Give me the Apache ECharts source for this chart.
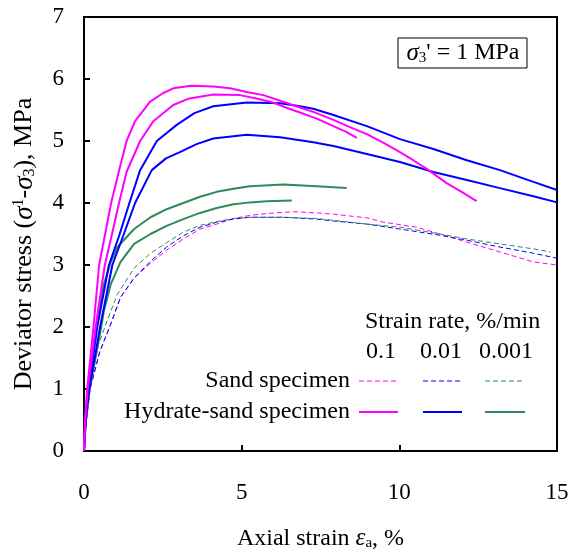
<!DOCTYPE html>
<html><head><meta charset="utf-8">
<script src="https://cdn.jsdelivr.net/npm/echarts@6/dist/echarts.min.js"></script>
<style>html,body{margin:0;padding:0;background:#fff}#c{width:577px;height:556px}</style>
</head><body><div id="c"></div>
<script>
// Hydrate-sand specimens (solid)
const hydMagentaA = [[0,0],[0.03,0.5],[0.1,1.0],[0.2,1.5],[0.3,2.0],[0.48,3.0],[0.67,3.5],[0.86,4.0],[1.1,4.5],[1.35,5.0],[1.62,5.32],[2.09,5.63],[2.5,5.77],[2.83,5.85],[3.4,5.89],[4.1,5.88],[4.63,5.85],[5.16,5.79],[5.69,5.74],[6.22,5.65],[6.85,5.54],[7.27,5.47],[7.91,5.34],[8.45,5.22],[8.97,5.11],[9.5,4.97],[10.02,4.82],[10.44,4.69],[10.87,4.55],[11.5,4.32],[12.0,4.17],[12.45,4.03]];
const hydMagentaB = [[0,0],[0.04,0.5],[0.12,1.0],[0.37,2.0],[0.66,3.0],[0.88,3.48],[1.11,4.0],[1.35,4.5],[1.78,5.0],[2.2,5.32],[2.83,5.58],[3.3,5.68],[4.1,5.75],[4.95,5.74],[5.5,5.68],[6.0,5.62],[6.4,5.54],[6.85,5.46],[7.38,5.36],[7.91,5.24],[8.3,5.15],[8.65,5.05]];
const hydBlueC = [[0,0],[0.05,0.5],[0.15,1.0],[0.42,2.0],[0.79,3.0],[1.12,3.48],[1.44,4.0],[1.78,4.53],[2.31,5.0],[2.94,5.26],[3.5,5.45],[4.1,5.56],[5.16,5.62],[6.22,5.61],[6.85,5.56],[7.27,5.52],[7.91,5.42],[8.97,5.24],[10.02,5.03],[11.08,4.87],[12.14,4.69],[13.19,4.53],[14.25,4.34],[15,4.21]];
const hydBlueD = [[0,0],[0.05,0.5],[0.17,1.0],[0.51,2.0],[0.9,3.0],[1.25,3.48],[1.62,4.0],[2.15,4.53],[2.6,4.72],[3.04,4.82],[3.57,4.95],[4.1,5.04],[5.16,5.10],[6.22,5.06],[7.27,4.98],[7.91,4.92],[8.97,4.79],[10.02,4.66],[11.08,4.50],[12.14,4.37],[13.19,4.24],[14.25,4.11],[15,4.01]];
const hydGreenE = [[0,0],[0.05,0.5],[0.15,1.0],[0.37,1.95],[0.48,2.26],[0.63,2.69],[0.85,3.05],[1.06,3.29],[1.59,3.58],[2.11,3.77],[2.62,3.9],[3.15,4.0],[3.68,4.1],[4.21,4.18],[4.74,4.23],[5.26,4.27],[6.32,4.30],[7.38,4.27],[8.33,4.24]];
const hydGreenF = [[0,0],[0.06,0.5],[0.18,1.0],[0.53,1.95],[0.63,2.26],[0.85,2.69],[1.16,3.05],[1.59,3.34],[2.11,3.5],[2.62,3.63],[3.15,3.74],[3.68,3.84],[4.21,3.92],[4.74,3.98],[5.26,4.01],[5.79,4.03],[6.59,4.04]];
// Sand specimens (dashed)
const sandMagenta = [[0,0],[0.08,0.5],[0.19,1.0],[0.5,1.6],[0.85,2.05],[1.16,2.48],[1.59,2.79],[2.09,3.02],[2.62,3.24],[3.15,3.42],[3.68,3.58],[4.21,3.66],[4.74,3.75],[5.26,3.80],[5.79,3.83],[6.64,3.86],[7.38,3.84],[7.91,3.82],[8.97,3.76],[9.5,3.69],[10.55,3.61],[11.29,3.50],[12.14,3.37],[13.19,3.21],[14.25,3.05],[15,3.0]];
const sandBlue = [[0,0],[0.08,0.5],[0.19,1.0],[0.5,1.6],[0.85,2.05],[1.16,2.48],[1.59,2.79],[2.09,3.05],[2.62,3.29],[3.15,3.47],[3.68,3.61],[4.21,3.69],[4.74,3.74],[5.26,3.77],[6.32,3.77],[7.38,3.74],[7.91,3.71],[8.97,3.66],[10.02,3.58],[11.29,3.48],[12.14,3.40],[13.19,3.29],[14.25,3.19],[15,3.11]];
const sandGreen = [[0,0],[0.07,0.5],[0.17,1.0],[0.45,1.7],[0.74,2.11],[1.06,2.53],[1.59,2.95],[2.11,3.19],[2.62,3.36],[3.15,3.53],[3.68,3.64],[4.21,3.70],[4.74,3.75],[5.26,3.77],[6.32,3.77],[7.38,3.75],[8.97,3.66],[10.02,3.61],[11.29,3.50],[12.14,3.42],[13.19,3.34],[14.25,3.26],[14.8,3.21]];

const rateLabels = ['0.1','0.01','0.001'];
const xTicks = [0,5,10,15];
const yTicks = [0,1,2,3,4,5,6,7];

const MAG = '#ff00ff', BLU = '#0000ff', GRN = '#2e8b57';
const FONT = '"Liberation Serif","Times New Roman",serif';

function solid(data,color){return {type:'line',data,showSymbol:false,symbol:'none',smooth:false,lineStyle:{color,width:2},z:3};}
function dashed(data,color){return {type:'line',data,showSymbol:false,symbol:'none',lineStyle:{color,width:1,type:[5,3]},z:2};}

const chart = echarts.init(document.getElementById('c'),null,{renderer:'canvas'});
const legendY1 = 381, legendY2 = 412;
const cols = [381,441,506];
const gfx = [
  {type:'text',x:365,y:322,style:{text:'Strain rate, %/min',font:'24px '+FONT,fill:'#000',verticalAlign:'middle'}},
];
rateLabels.forEach((t,i)=>{
  gfx.push({type:'text',x:cols[i],y:352,style:{text:t,font:'24px '+FONT,fill:'#000',align:'center',verticalAlign:'middle'}});
});
gfx.push({type:'text',x:350,y:legendY1,style:{text:'Sand specimen',font:'24px '+FONT,fill:'#000',align:'right',verticalAlign:'middle'}});
gfx.push({type:'text',x:350,y:legendY2,style:{text:'Hydrate-sand specimen',font:'24px '+FONT,fill:'#000',align:'right',verticalAlign:'middle'}});
const segs = [[359,398],[423,462],[485,525]];
[MAG,BLU,GRN].forEach((c,i)=>{
  const x0 = segs[i][0], x1 = segs[i][1];
  gfx.push({type:'line',shape:{x1:x0,y1:legendY1,x2:x1,y2:legendY1},style:{stroke:c,lineWidth:1,lineDash:[5,3]}});
  gfx.push({type:'line',shape:{x1:x0,y1:legendY2,x2:x1,y2:legendY2},style:{stroke:c,lineWidth:2}});
});
gfx.push({type:'rect',shape:{x:398,y:38,width:129,height:30},style:{fill:'#fff',stroke:'#000',lineWidth:1}});
gfx.push({type:'text',x:463,y:53,style:{
  text:'{i|σ}{sub|3}{t|\' = 1 MPa}',
  align:'center',verticalAlign:'middle',
  rich:{i:{font:'italic 25px '+FONT,fill:'#000',verticalAlign:'middle'},
        sub:{font:'15px '+FONT,fill:'#000',verticalAlign:'bottom',padding:[9,0,0,0]},
        t:{font:'24px '+FONT,fill:'#000',verticalAlign:'middle'}}}});

const option = {
  animation:false,
  backgroundColor:'#fff',
  grid:{left:84,right:20,top:17,bottom:96,show:true,borderColor:'#000',borderWidth:2,backgroundColor:'transparent'},
  xAxis:{type:'value',min:0,max:15,interval:5,
    name:'{t|Axial strain }{i|ε}{sub|a}{t|, %}',nameLocation:'middle',nameGap:75,
    nameTextStyle:{rich:{t:{fontFamily:FONT,fontSize:24,color:'#000'},i:{fontFamily:FONT,fontStyle:'italic',fontSize:25,color:'#000'},sub:{fontFamily:FONT,fontSize:15,color:'#000',verticalAlign:'bottom',padding:[10,0,0,0]}}},
    axisLine:{show:true,lineStyle:{color:'#000',width:2}},
    axisTick:{show:true,inside:true,length:6,lineStyle:{color:'#000',width:2}},
    axisLabel:{fontFamily:FONT,fontSize:23,color:'#000',margin:30,formatter:v=>xTicks.includes(v)?String(v):''},
    splitLine:{show:false}},
  yAxis:{type:'value',min:0,max:7,interval:1,
    name:'{t|Deviator stress (}{i|σ}{sup|1}{t|-}{i|σ}{sub|3}{t|), MPa}',nameLocation:'middle',nameGap:46,nameRotate:90,
    nameTextStyle:{padding:[0,20,0,0],rich:{t:{fontFamily:FONT,fontSize:26,color:'#000'},i:{fontFamily:FONT,fontStyle:'italic',fontSize:27,color:'#000'},sup:{fontFamily:FONT,fontSize:16,color:'#000',verticalAlign:'top',padding:[0,0,6,0]},sub:{fontFamily:FONT,fontSize:16,color:'#000',verticalAlign:'bottom',padding:[9,0,0,0]}}},
    axisLine:{show:true,lineStyle:{color:'#000',width:2}},
    axisTick:{show:true,inside:true,length:6,lineStyle:{color:'#000',width:2}},
    axisLabel:{fontFamily:FONT,fontSize:23,color:'#000',margin:20,formatter:v=>yTicks.includes(v)?String(v):''},
    splitLine:{show:false}},
  series:[
    dashed(sandMagenta,MAG),dashed(sandBlue,BLU),dashed(sandGreen,GRN),
    solid(hydGreenF,GRN),solid(hydGreenE,GRN),
    solid(hydBlueD,BLU),solid(hydBlueC,BLU),
    solid(hydMagentaB,MAG),solid(hydMagentaA,MAG)
  ],
  graphic:gfx
};
chart.setOption(option);
</script></body></html>
